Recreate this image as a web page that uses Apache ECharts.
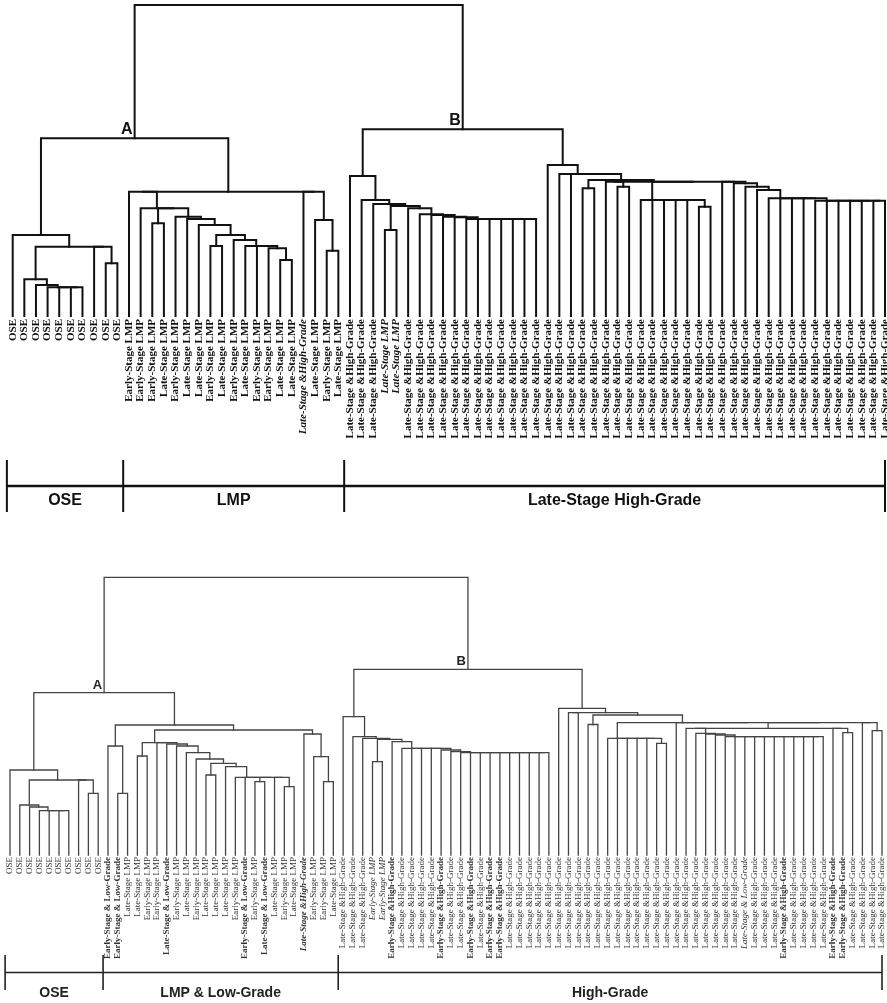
<!DOCTYPE html>
<html><head><meta charset="utf-8">
<script src="https://cdn.jsdelivr.net/npm/echarts@6/dist/echarts.min.js"></script>
<style>html,body{margin:0;padding:0;background:#fff}#c{width:887px;height:1003px}</style>
</head><body><div id="c"></div>
<script>
// ---------- helpers for writing label lists ----------
function rep(t, k) { return Array(k).fill(t); }
const LHG = 'Late-Stage &High-Grade', EHG = 'Early-Stage &High-Grade';
const ELMP = 'Early-Stage LMP', LLMP = 'Late-Stage LMP';

// ---------- TOP DENDROGRAM (76 samples) ----------
const topLabels = [].concat(
  rep('OSE', 10),
  [ELMP, ELMP, ELMP, LLMP, ELMP, LLMP, LLMP, ELMP, LLMP, ELMP, LLMP, ELMP, ELMP, LLMP, LLMP,
   LHG, LLMP, ELMP, LLMP],
  [LHG, LHG, LHG, LLMP, LLMP], rep(LHG, 42)
);
const topItalic = [25, 32, 33];
const topGroupNames = ['OSE', 'LMP', 'Late-Stage High-Grade'];
const topGroupSizes = [10, 19, 47];

// merges: [height, child, child, ...]  (extra children = chained merges at the same height)
const topOSE = [81, 0, [69.3, [36.7, 1, [31, 2, [28.7, 3, 4, 5, 6]]], [69.3, 7, [52.7, 8, 9]]]];
const topLMPa = [124.3, 10, [107.7, 11, [92.7, 12, 13],
  [99.3, 14, [97, 15, [91, 16, [81, [70, 17, 18], [76, 19, [70, 20, 21, [67.7, 22, [56, 23, 24]]]]]]]]]];
const topLMPb = [124.3, 25, [96, 26, [65.3, 27, 28]]];
const topA = [177.7, topOSE, [124.3, topLMPa, topLMPb]];
const topB1 = [140, 29, [116, 30, [112, 31, [110, [86, 32, 33],
  [107.7, 34, [101.7, 35, [101, 36, [99.3, 37, [98.7, 38, [97, 39, 40, 41, 42, 43, 44, 45]]]]]]]]]];
const topG1 = [116, 54, 55, 56, 57, 58, [109.3, 59, 60]];
const topG3 = [115.3, 69, 70, 71, 72, 73, 74, 75];
const topChain = [134.3, 61, [132.7, 62, [129.3, 63, [126, 64, [117.7, 65, 66, 67, 68, topG3]]]]];
const topQ = [134.3, [134.3, 51, [129.3, 52, 53]], [134.3, topG1, topChain]];
const topB2 = [151, 46, [142, 47, 48, [136, [127.7, 49, 50], topQ]]];
const topB = [186.7, topB1, topB2];
const topRoot = [311, topA, topB];

// ---------- BOTTOM DENDROGRAM (90 samples) ----------
const ELG = 'Early-Stage & Low-Grade', LLG = 'Late-Stage & Low-Grade';
const botLabels = [].concat(
  rep('OSE', 10),
  [ELG, ELG, LLMP, LLMP, ELMP, ELMP, LLG, ELMP, LLMP, ELMP, LLMP, LLMP, LLMP, ELMP, ELG, ELMP,
   LLG, LLMP, ELMP, LLMP, LHG, ELMP, ELMP, LLMP],
  [LHG, LHG, LHG, ELMP, ELMP, EHG, LHG, LHG, LHG, LHG, EHG, LHG, LHG, EHG, LHG, EHG, EHG],
  rep(LHG, 24), [LLG, LHG, LHG, LHG, EHG, LHG, LHG, LHG, LHG, EHG, EHG, LHG, LHG, LHG, LHG]
);
const botBold = [10, 11, 16, 24, 26, 30, 39, 44, 47, 49, 50, 79, 84, 85];
const botItalic = [30, 37, 38, 75];
const botGroupNames = ['OSE', 'LMP & Low-Grade', 'High-Grade'];
const botGroupSizes = [10, 24, 56];

const botOSE = [85, 0, [75, [50, 1, [48, 2, [44.3, 3, 4, 5, 6]]], [75, 7, [61.7, 8, 9]]]];
const botX23 = [77.7, 23, 24, [73.3, 25, 26], 27, [68.3, 28, 29]];
const botX19 = [96, 19, [91.7, [80, 20, 21], [88.3, 22, botX23]]];
const botX13 = [112.3, [99, 13, 14], [112.3, 15, [111, 16, [109, 17, [102.3, 18, botX19]]]]];
const botLMP = [130, [109, 10, [61.7, 11, 12]], [125, botX13, [121, 30, [98.3, 31, [73.3, 32, 33]]]]];
const botA = [162.3, botOSE, botLMP];
const botB1 = [138.3, 34, [118.3, 35, [116.7, 36, [115.7, [93.3, 37, 38],
  [113.3, 39, [106.7, 40, 41, 42, 43, [105, 44, [103.3, 45, [102.3, 46, 47, 48, 49, 50, 51, 52, 53, 54, 55]]]]]]]]];
const botG = [116.7, 61, 62, 63, 64, 65, [111.7, 66, 67]];
const botW = [121.7, 70, [121, 71, [120, 72, [118.3, 73, 74, 75, 76, 77, 78, 79, 80, 81, 82, 83]]]];
const botV = [126.7, [126.7, 69, botW], [126.7, 84, [122.3, 85, 86]]];
const botZ = [132.3, botG, 68, botV, [132.3, 87, [124.3, 88, 89]]];
const botB2 = [146.7, 56, [142.3, [142.3, 57, 58], [140, [130.5, 59, 60], botZ]]];
const botB = [185.7, botB1, botB2];
const botRoot = [277.7, botA, botB];

// ---------- layout of merges into segments (data units) ----------
function buildTree(root, marks) {
  const segs = [], pos = new Map();
  function walk(node) {
    if (typeof node === 'number') return [node, 0];
    const h = node[0], kids = node.slice(1);
    let r = walk(kids[kids.length - 1]);
    for (let i = kids.length - 2; i >= 0; i--) {
      const l = walk(kids[i]);
      segs.push([l[0], l[1], r[0], r[1], h]);
      r = [(l[0] + r[0]) / 2, h];
    }
    pos.set(node, r);
    return r;
  }
  walk(root);
  return { segs, nodes: marks.map(m => ({ value: pos.get(m[0]), name: m[1] })) };
}
function groupBounds(sizes, n) {
  const out = []; let s = -0.5;
  sizes.forEach(k => { const e = Math.min(s + k, n - 1); out.push([s, e]); s += k; });
  return out;
}
const topT = buildTree(topRoot, [[topA, 'A'], [topB, 'B']]);
const botT = buildTree(botRoot, [[botA, 'A'], [botB, 'B']]);

function dendroRender(color, lw) {
  return function (params, api) {
    const a = api.coord([api.value(0), api.value(1)]);
    const b = api.coord([api.value(0), api.value(4)]);
    const c = api.coord([api.value(2), api.value(4)]);
    const d = api.coord([api.value(2), api.value(3)]);
    return { type: 'polyline', shape: { points: [a, b, c, d] },
      style: { stroke: color, lineWidth: lw, fill: 'none', lineJoin: 'miter', lineCap: 'square' } };
  };
}
function nodeRender(names, size, color) {
  return function (params, api) {
    const p = api.coord([api.value(0), api.value(1)]);
    return { type: 'text', x: p[0] - 2, y: p[1] - 1,
      style: { text: names[params.dataIndex], align: 'right', verticalAlign: 'bottom',
        fill: color, fontSize: size, fontWeight: 'bold', fontFamily: 'Liberation Sans, Arial, sans-serif' } };
  };
}
function bracketRender(names, o) {
  return function (params, api) {
    const s = api.value(0), e = api.value(1);
    const st = { stroke: o.color, lineWidth: o.tickW };
    const t0 = api.coord([s, 1]), t1 = api.coord([s, 0]);
    const m0 = api.coord([s, o.lineY]), m1 = api.coord([e, o.lineY]);
    const tx = api.coord([(s + e) / 2, o.textY]);
    const ch = [
      { type: 'line', shape: { x1: t0[0], y1: t0[1], x2: t1[0], y2: t1[1] }, style: st },
      { type: 'line', shape: { x1: m0[0], y1: m0[1], x2: m1[0], y2: m1[1] }, style: { stroke: o.color, lineWidth: o.lineW } },
      { type: 'text', x: tx[0], y: tx[1], style: { text: names[params.dataIndex], align: 'center', verticalAlign: 'middle',
        fill: o.color, fontSize: o.size, fontWeight: 'bold', fontFamily: 'Liberation Sans, Arial, sans-serif' } }
    ];
    if (params.dataIndex === names.length - 1) {
      const r0 = api.coord([e, 1]), r1 = api.coord([e, 0]);
      ch.push({ type: 'line', shape: { x1: r0[0], y1: r0[1], x2: r1[0], y2: r1[1] }, style: st });
    }
    return { type: 'group', children: ch };
  };
}

const serif = 'Liberation Serif, Times New Roman, serif';
function leafAxis(grid, labels, styleOf, base, margin) {
  return {
    type: 'value', gridIndex: grid, min: 0, max: labels.length - 1, interval: 1,
    axisLine: { show: false }, axisTick: { show: false }, splitLine: { show: false },
    axisLabel: {
      show: true, rotate: 90, margin: margin, showMinLabel: true, showMaxLabel: true, hideOverlap: false,
      formatter: v => { const i = Math.round(v); const t = labels[i]; return t == null ? '' : '{' + styleOf(i) + '|' + t + '}'; },
      rich: {
        n: Object.assign({}, base),
        b: Object.assign({}, base, { fontWeight: 'bold' }),
        i: Object.assign({}, base, { fontStyle: 'italic' }),
        bi: Object.assign({}, base, { fontWeight: 'bold', fontStyle: 'italic' })
      }
    }
  };
}
function hiddenX(grid, n) {
  return { type: 'value', gridIndex: grid, min: 0, max: n - 1, show: false, splitLine: { show: false } };
}
function hiddenY(grid, max) {
  return { type: 'value', gridIndex: grid, min: 0, max: max, show: false, splitLine: { show: false } };
}

const chart = echarts.init(document.getElementById('c'), null, { renderer: 'canvas' });
const g = (l, r, t, h) => ({ left: l, right: r, top: t, height: h, containLabel: false, outerBoundsMode: 'none' });
chart.setOption({
  animation: false,
  backgroundColor: '#fff',
  grid: [g(12.7, 2, 5, 311), g(10, 5, 577.3, 277.7), g(12.7, 2, 460, 52), g(10, 5, 955, 35)],
  xAxis: [
    leafAxis(0, topLabels, i => topItalic.includes(i) ? 'bi' : 'b',
      { fontFamily: serif, fontSize: 11, color: '#111', lineHeight: 11 }, 3),
    leafAxis(1, botLabels, i => botBold.includes(i) ? (botItalic.includes(i) ? 'bi' : 'b') : (botItalic.includes(i) ? 'i' : 'n'),
      { fontFamily: serif, fontSize: 9, color: '#333', lineHeight: 9 }, 2),
    hiddenX(2, topLabels.length), hiddenX(3, botLabels.length)
  ],
  yAxis: [hiddenY(0, topRoot[0]), hiddenY(1, botRoot[0]), hiddenY(2, 1), hiddenY(3, 1)],
  series: [
    { type: 'custom', xAxisIndex: 0, yAxisIndex: 0, data: topT.segs, clip: false, silent: true,
      encode: { x: [0, 2], y: [1, 3, 4] }, renderItem: dendroRender('#111', 2) },
    { type: 'custom', xAxisIndex: 1, yAxisIndex: 1, data: botT.segs, clip: false, silent: true,
      encode: { x: [0, 2], y: [1, 3, 4] }, renderItem: dendroRender('#444', 1.3) },
    { type: 'custom', xAxisIndex: 0, yAxisIndex: 0, data: topT.nodes, clip: false, silent: true,
      renderItem: nodeRender(topT.nodes.map(d => d.name), 16, '#111') },
    { type: 'custom', xAxisIndex: 1, yAxisIndex: 1, data: botT.nodes, clip: false, silent: true,
      renderItem: nodeRender(botT.nodes.map(d => d.name), 13, '#222') },
    { type: 'custom', xAxisIndex: 2, yAxisIndex: 2, data: groupBounds(topGroupSizes, topLabels.length), clip: false, silent: true,
      renderItem: bracketRender(topGroupNames, { color: '#111', tickW: 2, lineW: 2.5, lineY: 0.5, textY: 0.21, size: 16 }) },
    { type: 'custom', xAxisIndex: 3, yAxisIndex: 3, data: groupBounds(botGroupSizes, botLabels.length), clip: false, silent: true,
      renderItem: bracketRender(botGroupNames, { color: '#222', tickW: 1.6, lineW: 1.4, lineY: 0.5, textY: -0.09, size: 14 }) }
  ]
});
</script></body></html>
